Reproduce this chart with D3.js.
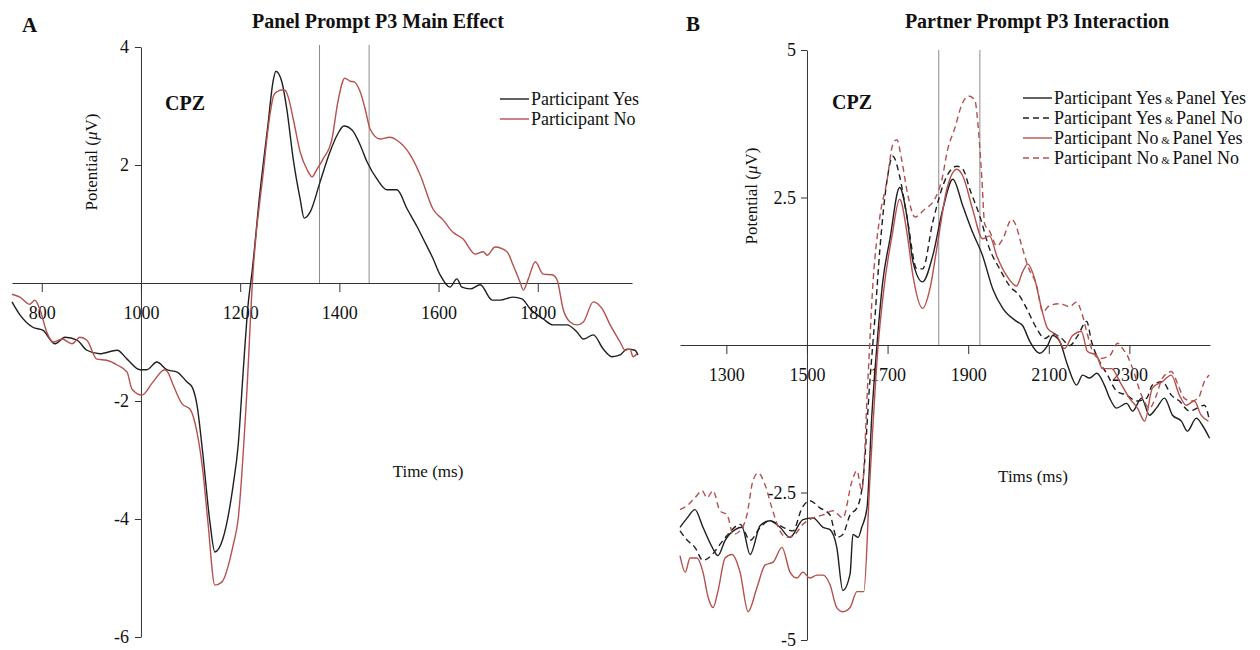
<!DOCTYPE html>
<html>
<head>
<meta charset="utf-8">
<script src="https://cdn.jsdelivr.net/npm/d3@7"></script>
<style>
  body { margin: 0; background: #fff; }
  svg text { font-family: "Liberation Serif", "Times New Roman", serif; fill: #111; }
</style>
</head>
<body>
<svg id="chart" width="1260" height="650"></svg>
<script>
// ---- datos (tiempo ms, potencial µV) ----
const ticksAX = [800, 1000, 1200, 1400, 1600, 1800];
const ticksAY = [4, 2, -2, -4, -6];
const ticksBX = [1300, 1500, 1700, 1900, 2100, 2300];
const ticksBY = [5, 2.5, -2.5, -5];
const windowA = [1360, 1460];
const windowB = [1827, 1929];

const labelsA = ['Participant Yes', 'Participant No'];
const labelsB = [
  ['Participant Yes', 'Panel Yes'],
  ['Participant Yes', 'Panel No'],
  ['Participant No', 'Panel Yes'],
  ['Participant No', 'Panel No']
];

// Panel A: Participant Yes (negro)
const aYes = [[740,-0.32],[756,-0.54],[782,-0.75],[802,-0.80],[827,-1.03],[847,-0.92],[871,-0.97],[891,-1.14],[917,-1.20],[952,-1.14],[972,-1.29],[998,-1.47],[1012,-1.47],[1032,-1.34],[1052,-1.47],[1073,-1.51],[1093,-1.68],[1103,-1.76],[1113,-2.07],[1125,-2.92],[1139,-4.05],[1149,-4.56],[1165,-4.34],[1186,-3.42],[1196,-2.75],[1206,-1.51],[1216,-0.37],[1224,0.19],[1240,1.54],[1256,2.68],[1266,3.40],[1272,3.59],[1284,3.41],[1294,2.95],[1307,2.10],[1321,1.42],[1329,1.10],[1341,1.20],[1361,1.71],[1381,2.22],[1397,2.53],[1409,2.66],[1426,2.59],[1442,2.34],[1456,2.05],[1476,1.76],[1496,1.58],[1516,1.58],[1537,1.25],[1557,0.95],[1569,0.75],[1589,0.41],[1603,0.14],[1623,-0.07],[1637,0.07],[1647,-0.07],[1664,-0.10],[1684,-0.03],[1708,-0.29],[1724,-0.29],[1750,-0.24],[1768,-0.27],[1785,-0.44],[1811,-0.61],[1831,-0.71],[1859,-0.71],[1879,-0.83],[1892,-0.95],[1912,-0.88],[1932,-1.12],[1950,-1.25],[1966,-1.22],[1980,-1.12],[1996,-1.14],[2002,-1.22]];

// Panel A: Participant No (rojo)
const aNo = [[740,-0.19],[756,-0.24],[776,-0.36],[786,-0.29],[796,-0.44],[810,-0.83],[823,-1.00],[841,-0.95],[861,-1.03],[877,-0.92],[891,-0.97],[911,-1.29],[931,-1.31],[952,-1.39],[972,-1.51],[982,-1.80],[1002,-1.90],[1024,-1.68],[1048,-1.47],[1054,-1.51],[1065,-1.73],[1083,-2.05],[1099,-2.14],[1113,-2.53],[1125,-3.20],[1135,-4.05],[1149,-5.12],[1163,-5.07],[1186,-4.44],[1196,-4.00],[1212,-2.07],[1226,0.19],[1246,1.83],[1260,2.85],[1268,3.19],[1276,3.25],[1284,3.27],[1290,3.27],[1297,3.15],[1307,2.78],[1321,2.22],[1335,1.92],[1345,1.80],[1355,1.93],[1367,2.10],[1385,2.44],[1397,3.07],[1411,3.47],[1422,3.42],[1430,3.41],[1442,3.24],[1452,2.95],[1462,2.61],[1482,2.44],[1502,2.47],[1516,2.42],[1543,2.17],[1563,1.83],[1589,1.25],[1609,1.07],[1629,0.86],[1649,0.75],[1674,0.49],[1690,0.53],[1698,0.47],[1714,0.61],[1738,0.53],[1750,0.31],[1764,0.02],[1771,-0.12],[1781,0.07],[1795,0.36],[1811,0.15],[1829,0.14],[1839,0.05],[1851,-0.44],[1865,-0.66],[1879,-0.71],[1892,-0.66],[1912,-0.32],[1930,-0.44],[1946,-0.71],[1966,-1.00],[1976,-1.14],[1986,-1.12],[1992,-1.25],[2000,-1.20]];

// Panel B: Participant Yes & Panel Yes (negro continuo)
const bYesYes = [[1185,-3.09],[1203,-2.93],[1222,-2.79],[1242,-3.09],[1265,-3.43],[1279,-3.57],[1297,-3.31],[1322,-3.13],[1339,-3.09],[1359,-3.55],[1384,-3.06],[1408,-2.98],[1433,-3.09],[1458,-3.26],[1490,-2.96],[1515,-2.93],[1540,-3.09],[1557,-3.13],[1574,-3.43],[1589,-4.16],[1607,-3.88],[1614,-3.21],[1627,-3.26],[1636,-3.09],[1649,-2.76],[1661,-1.19],[1673,-0.06],[1688,1.07],[1706,1.80],[1730,2.67],[1748,2.18],[1763,1.41],[1787,1.07],[1812,1.51],[1837,2.30],[1862,2.81],[1887,2.35],[1911,1.91],[1936,1.51],[1961,0.95],[1986,0.62],[2020,0.40],[2035,0.33],[2053,0.06],[2077,-0.14],[2097,-0.01],[2110,0.16],[2127,0.06],[2147,-0.35],[2169,-0.68],[2184,-0.51],[2201,-0.56],[2219,-0.48],[2238,-0.68],[2251,-0.90],[2268,-1.07],[2293,-0.99],[2308,-1.12],[2330,-0.90],[2350,-1.19],[2367,-1.07],[2387,-0.90],[2407,-1.19],[2429,-1.29],[2444,-1.46],[2466,-1.24],[2481,-1.36],[2499,-1.58]];

// Panel B: Participant Yes & Panel No (negro discontinuo)
const bYesNo = [[1185,-3.15],[1203,-3.31],[1222,-3.43],[1242,-3.65],[1265,-3.55],[1284,-3.38],[1304,-3.21],[1334,-3.04],[1359,-3.31],[1384,-3.09],[1408,-2.98],[1441,-3.09],[1465,-3.15],[1488,-2.76],[1507,-2.64],[1532,-2.76],[1557,-2.88],[1574,-3.26],[1589,-3.21],[1607,-2.88],[1624,-2.76],[1639,-2.30],[1656,-0.62],[1669,0.50],[1681,1.63],[1698,2.76],[1713,3.20],[1730,2.86],[1748,2.18],[1773,1.29],[1787,1.29],[1812,2.08],[1847,2.86],[1872,3.03],[1887,2.98],[1904,2.64],[1929,2.18],[1953,1.63],[1978,1.29],[2003,1.00],[2028,0.83],[2045,0.62],[2070,0.28],[2090,0.11],[2110,0.19],[2132,0.11],[2152,-0.01],[2172,0.16],[2194,0.40],[2206,0.06],[2226,-0.28],[2246,-0.51],[2268,-0.78],[2293,-0.85],[2318,-0.95],[2343,-0.90],[2357,-0.68],[2382,-0.62],[2404,-0.85],[2424,-0.95],[2449,-1.12],[2468,-1.07],[2486,-1.02],[2499,-1.29]];

// Panel B: Participant No & Panel Yes (rojo continuo)
const bNoYes = [[1185,-3.57],[1198,-3.85],[1210,-3.61],[1227,-3.61],[1242,-3.85],[1255,-4.28],[1267,-4.45],[1279,-4.18],[1297,-3.61],[1314,-3.55],[1334,-3.85],[1354,-4.52],[1376,-4.11],[1396,-3.73],[1416,-3.68],[1438,-3.43],[1458,-3.85],[1475,-3.95],[1490,-3.85],[1507,-3.95],[1525,-3.90],[1540,-3.90],[1557,-4.06],[1574,-4.45],[1589,-4.52],[1607,-4.45],[1624,-4.18],[1641,-4.18],[1656,-2.30],[1676,-0.06],[1693,1.07],[1711,1.85],[1730,2.47],[1748,1.91],[1763,1.17],[1787,0.62],[1805,0.95],[1822,1.63],[1847,2.64],[1872,2.98],[1887,2.86],[1911,2.30],[1936,1.80],[1953,1.85],[1971,1.51],[1996,1.17],[2020,1.00],[2035,1.24],[2048,1.37],[2065,1.12],[2082,0.62],[2097,0.28],[2120,0.16],[2139,-0.06],[2159,0.16],[2181,0.23],[2196,-0.11],[2219,-0.18],[2233,-0.40],[2256,-0.40],[2276,-0.62],[2300,-0.90],[2320,-1.07],[2338,-1.29],[2357,-0.73],[2382,-0.62],[2404,-0.51],[2424,-0.85],[2441,-1.02],[2461,-0.95],[2478,-1.19],[2496,-1.29]];

// Panel B: Participant No & Panel No (rojo discontinuo)
const bNoNo = [[1185,-2.79],[1205,-2.71],[1222,-2.59],[1240,-2.47],[1252,-2.59],[1267,-2.47],[1284,-2.81],[1302,-2.88],[1317,-3.21],[1334,-3.15],[1351,-2.88],[1366,-2.30],[1379,-2.17],[1396,-2.37],[1413,-2.76],[1433,-3.15],[1450,-3.26],[1470,-3.21],[1490,-3.04],[1515,-2.93],[1540,-2.88],[1564,-2.81],[1589,-2.93],[1612,-2.30],[1624,-2.13],[1636,-2.47],[1651,-0.62],[1664,1.07],[1681,2.18],[1698,2.76],[1713,3.40],[1723,3.48],[1735,3.14],[1750,2.55],[1768,2.17],[1792,2.30],[1817,2.47],[1835,2.81],[1849,3.31],[1867,3.68],[1884,4.07],[1901,4.22],[1916,4.16],[1926,3.60],[1934,2.81],[1941,2.05],[1953,1.93],[1971,1.68],[1986,1.80],[2008,2.13],[2015,2.08],[2033,1.68],[2048,1.34],[2070,1.00],[2085,0.56],[2102,0.67],[2127,0.70],[2152,0.65],[2169,0.73],[2181,0.56],[2194,0.23],[2206,-0.06],[2226,-0.23],[2251,-0.18],[2271,0.03],[2283,-0.06],[2295,-0.18],[2308,-0.40],[2333,-0.90],[2350,-1.07],[2367,-0.85],[2382,-0.56],[2404,-0.45],[2421,-0.68],[2436,-0.90],[2453,-0.95],[2471,-0.90],[2486,-0.62],[2498,-0.51]];

const BLACK = '#1f1f1f', RED = '#b5504d', GREY = '#8c8c8c', AXIS = '#333';
const DASH = '6,4';

const svg = d3.select('#chart');

function drawPanel(p) {
  const g = svg.append('g');
  const x = d3.scaleLinear().domain(p.xDomain).range(p.xRange);
  const y = d3.scaleLinear().domain(p.yDomain).range(p.yRange);
  const fmt = (d) => String(d);

  // ventana de análisis (líneas grises)
  g.selectAll('line.win').data(p.window).join('line')
    .attr('class', 'win')
    .attr('x1', (d) => x(d)).attr('x2', (d) => x(d))
    .attr('y1', p.windowTop).attr('y2', y(0))
    .attr('stroke', GREY).attr('stroke-width', 1);

  // ejes
  const xa = g.append('g').attr('transform', `translate(0,${y(0)})`)
    .call(d3.axisBottom(x).tickValues(p.xTicks).tickSize(9).tickSizeOuter(0).tickPadding(14).tickFormat(fmt));
  const ya = g.append('g').attr('transform', `translate(${x(p.yAxisAt)},0)`)
    .call(d3.axisLeft(y).tickValues(p.yTicks).tickSize(6).tickSizeOuter(0).tickPadding(p.yPad).tickFormat(fmt));
  [xa, ya].forEach((a) => {
    a.attr('font-family', null).attr('font-size', 18);
    a.selectAll('path,line').attr('stroke', AXIS);
    a.selectAll('text').attr('fill', '#111');
  });

  // curvas
  const line = d3.line().x((d) => x(d[0])).y((d) => y(d[1])).curve(d3.curveMonotoneX);
  p.series.forEach((s) => {
    g.append('path').datum(s.data)
      .attr('d', line)
      .attr('fill', 'none')
      .attr('stroke', s.color)
      .attr('stroke-width', 1.4)
      .attr('stroke-dasharray', s.dash || null);
  });

  // textos
  g.append('text').attr('x', p.letter[0]).attr('y', p.letter[1])
    .attr('font-size', 21).attr('font-weight', 'bold').text(p.letter[2]);
  g.append('text').attr('x', p.title[0]).attr('y', p.title[1])
    .attr('text-anchor', 'middle').attr('font-size', 20).attr('font-weight', 'bold').text(p.title[2]);
  g.append('text').attr('x', p.cpz[0]).attr('y', p.cpz[1])
    .attr('font-size', 20).attr('font-weight', 'bold').text('CPZ');
  g.append('text').attr('x', p.xLabel[0]).attr('y', p.xLabel[1])
    .attr('text-anchor', 'middle').attr('font-size', 17).text(p.xLabel[2]);

  const yl = g.append('text')
    .attr('transform', `translate(${p.yLabel[0]},${p.yLabel[1]}) rotate(-90)`)
    .attr('text-anchor', 'middle').attr('font-size', 17);
  yl.append('tspan').text('Potential (');
  yl.append('tspan').attr('font-style', 'italic').text('\u03bc');
  yl.append('tspan').text('V)');

  // leyenda
  const lg = g.append('g');
  p.series.forEach((s, i) => {
    const yy = p.legend.y + i * 20;
    lg.append('line')
      .attr('x1', p.legend.x).attr('x2', p.legend.x + 29)
      .attr('y1', yy).attr('y2', yy)
      .attr('stroke', s.color).attr('stroke-width', 1.4)
      .attr('stroke-dasharray', s.dash || null);
    const t = lg.append('text').attr('x', p.legend.x + 31).attr('y', yy).attr('dy', '0.35em')
      .attr('font-size', 18);
    if (Array.isArray(s.label)) {
      t.append('tspan').text(s.label[0]);
      t.append('tspan').attr('font-size', 11).text('\u00a0&\u00a0');
      t.append('tspan').text(s.label[1]);
    } else {
      t.text(s.label);
    }
  });
}

drawPanel({
  xDomain: [740, 1990], xRange: [12, 632],
  yDomain: [4, -6], yRange: [47, 637],
  xTicks: ticksAX, yTicks: ticksAY, yAxisAt: 1000, yPad: 6,
  window: windowA, windowTop: 45,
  series: [
    { data: aYes, color: BLACK, label: labelsA[0] },
    { data: aNo, color: RED, label: labelsA[1] }
  ],
  letter: [22, 32, 'A'],
  title: [378, 28, 'Panel Prompt P3 Main Effect'],
  cpz: [165, 110],
  xLabel: [428, 477, 'Time (ms)'],
  yLabel: [97, 162],
  legend: { x: 500, y: 99 }
});

drawPanel({
  xDomain: [1185, 2500], xRange: [680, 1210],
  yDomain: [5, -5], yRange: [50, 640],
  xTicks: ticksBX, yTicks: ticksBY, yAxisAt: 1500, yPad: 5,
  window: windowB, windowTop: 50,
  series: [
    { data: bYesYes, color: BLACK, label: labelsB[0] },
    { data: bYesNo, color: BLACK, dash: DASH, label: labelsB[1] },
    { data: bNoYes, color: RED, label: labelsB[2] },
    { data: bNoNo, color: RED, dash: DASH, label: labelsB[3] }
  ],
  letter: [686, 31, 'B'],
  title: [1037, 28, 'Partner Prompt P3 Interaction'],
  cpz: [832, 109],
  xLabel: [1033, 482, 'Tims (ms)'],
  yLabel: [757, 196],
  legend: { x: 1023, y: 98 }
});
</script>
</body>
</html>
